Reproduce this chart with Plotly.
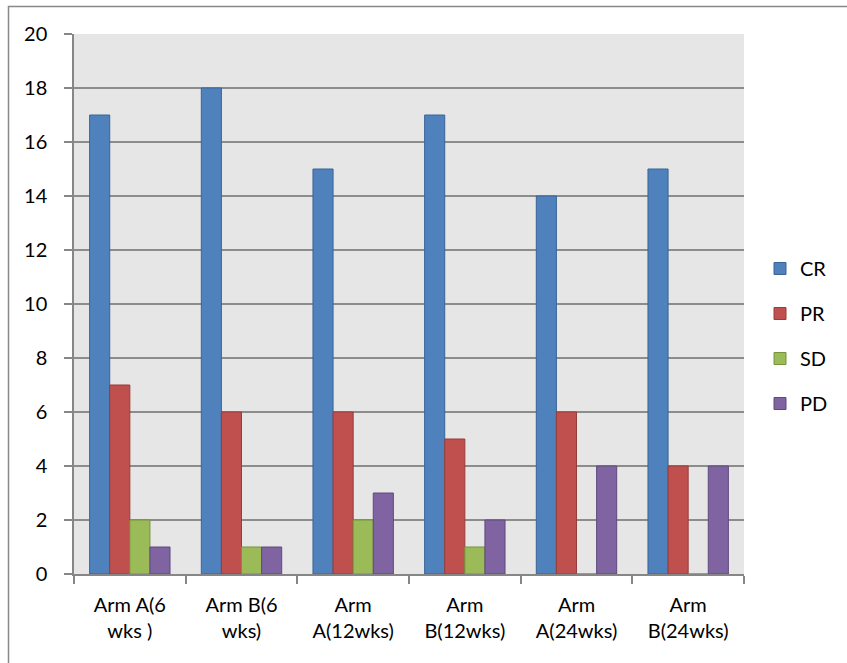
import plotly.graph_objects as go

categories = ["Arm A(6<br>wks )", "Arm B(6<br>wks)", "Arm<br>A(12wks)", "Arm<br>B(12wks)", "Arm<br>A(24wks)", "Arm<br>B(24wks)"]
series_names = ["CR", "PR", "SD", "PD"]
cr = [17, 18, 15, 17, 14, 15]
pr = [7, 6, 6, 5, 6, 4]
sd = [2, 1, 2, 1, 0, 0]
pd_ = [1, 1, 3, 2, 4, 4]
y_ticks = [0, 2, 4, 6, 8, 10, 12, 14, 16, 18, 20]

fills = ["#4F81BD", "#C0504D", "#9BBB59", "#8064A2"]
lines = ["#3A6596", "#963C3A", "#77933C", "#5F4A7B"]

W, H = 847, 663
L, R, T, B = 74, 103, 34, 89
pw, ph = W - L - R, H - T - B

fig = go.Figure()
for name, vals, fc, lc in zip(series_names, [cr, pr, sd, pd_], fills, lines):
    fig.add_trace(go.Bar(
        name=name, x=categories, y=vals,
        marker=dict(color=fc, line=dict(color=lc, width=1)),
        legendgroup=name,
    ))

font = "Lato, 'Open Sans', sans-serif"

# outer chart border (only top and left visible in the reference)
bx = (8.5 - L) / pw
by = 1 + (T - 6.5) / ph
fig.add_shape(type="rect", xref="paper", yref="paper",
              x0=bx, y0=-0.5, x1=1.5, y1=by,
              line=dict(color="#888888", width=1.5), fillcolor="rgba(0,0,0,0)", layer="below")

fig.update_layout(
    width=W, height=H,
    margin=dict(l=L, r=R, t=T, b=B, pad=0),
    paper_bgcolor="white",
    plot_bgcolor="#E6E6E6",
    barmode="group",
    bargap=0.28,
    bargroupgap=0,
    font=dict(family=font, size=20, color="black"),
    showlegend=True,
    legend=dict(
        x=(760 - L) / pw, xanchor="left",
        y=(574 - 336) / ph, yanchor="middle",
        traceorder="grouped", tracegroupgap=16,
        font=dict(size=20, family=font),
        bgcolor="rgba(0,0,0,0)",
    ),
    xaxis=dict(
        showline=True, linecolor="#868686", linewidth=1.5,
        ticks="outside", tickson="boundaries", ticklen=8, tickcolor="#868686", tickwidth=1.5,
        showgrid=False, tickfont=dict(size=20, family=font),
        mirror=False, ticklabelstandoff=12,
    ),
    yaxis=dict(
        range=[0, 20], tickvals=y_ticks,
        showline=True, linecolor="#868686", linewidth=1.5,
        ticks="outside", ticklen=8, tickcolor="#868686", tickwidth=1.5,
        showgrid=True, gridcolor="#8C8C8C", gridwidth=1.5,
        zeroline=False, tickfont=dict(size=20, family=font),
        ticklabelstandoff=13,
    ),
)

fig.write_html("out.html", config={"displayModeBar": False},
               post_script="document.body.style.margin='0px';")
